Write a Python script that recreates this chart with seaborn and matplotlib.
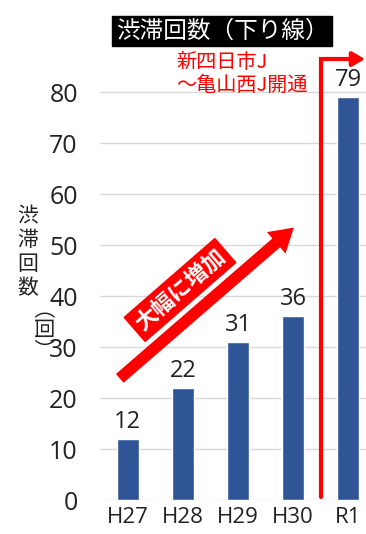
import matplotlib
matplotlib.use("Agg")
import matplotlib.pyplot as plt
import seaborn as sns
import pandas as pd

categories = ["H27", "H28", "H29", "H30", "R1"]
values = [12, 22, 31, 36, 79]
yticks = [0, 10, 20, 30, 40, 50, 60, 70, 80]
title = "渋滞回数（下り線）"
ylabel_main = "渋\n滞\n回\n数"
ylabel_unit = "（回）"
note = "新四日市J\n～亀山西J開通"
trend = "大幅に増加"

sns.set_theme(style="white")
plt.rcParams['font.family'] = ['Noto Sans CJK JP', 'DejaVu Sans']
NUM = ['Open Sans', 'DejaVu Sans']

df = pd.DataFrame({"year": categories, "count": values})

fig = plt.figure(figsize=(3.66, 5.34), dpi=100)
ax = fig.add_axes([100/366, 34/534, 276/366, 418/534])
sns.barplot(data=df, x="year", y="count", color="#2F5597", saturation=1,
            width=0.4, ax=ax, zorder=3)
ax.set_xlim(-0.5, 4.5)
ax.set_ylim(0, 82)
ax.set_yticks(yticks)
ax.set_yticklabels([str(t) for t in yticks], fontsize=18, color="#222222", family=NUM)
for lab in ax.get_xticklabels():
    lab.set_family(NUM)
    lab.set_fontsize(16)
    lab.set_color("#222222")
ax.tick_params(axis="y", length=0, pad=16)
ax.tick_params(axis="x", length=0, pad=5)
ax.set_xlabel("")
ax.set_ylabel("")
for s in ax.spines.values():
    s.set_visible(False)
ax.grid(axis="y", color="#d9d9d9", linewidth=1, zorder=0)
ax.set_axisbelow(True)

for i, v in enumerate(values):
    ax.text(i, v + 1.0, str(v), ha="center", va="bottom", fontsize=17,
            color="#222222", family=NUM)

# title
fig.text(222/366, 1 - 31/534, title, ha="center", va="center", fontsize=17,
         color="white", bbox=dict(boxstyle="square,pad=0.15", fc="black", ec="black"))

# y label
fig.text(28/366, 1 - 252/534, ylabel_main, ha="center", va="center", fontsize=15,
         color="#222222", linespacing=1.12)
fig.text(28/366, 1 - 342/534, ylabel_unit, ha="center", va="center", fontsize=15,
         color="#222222", rotation=270)

# red note
fig.text(176/366, 1 - 74/534, note, ha="left", va="center", fontsize=14.5,
         color="#ff0000", linespacing=1.1)

# red opening line with arrow
ax.plot([3.5, 3.5, 4.15], [0.5, 86.5, 86.5], color="#ff0000", lw=3, clip_on=False, zorder=5,
        solid_joinstyle="miter")
ax.annotate("", xy=(4.35, 86.5), xytext=(4.1, 86.5),
            arrowprops=dict(arrowstyle="-|>,head_length=0.6,head_width=0.35", color="#ff0000", lw=3),
            annotation_clip=False)

# big trend arrow
ax.annotate("", xy=(3.05, 53.8), xytext=(-0.18, 23.5),
            arrowprops=dict(arrowstyle="simple,head_length=1.4,head_width=1.7,tail_width=0.7",
                            fc="#ff0000", ec="#ff0000", lw=0), annotation_clip=False)
fig.text(180/366, 1 - 290/534, trend, ha="center", va="center", fontsize=16,
         color="white", fontweight="bold", rotation=41,
         bbox=dict(boxstyle="square,pad=0.2", fc="#ff0000", ec="#ff0000"))

fig.savefig("out.png", dpi=100)
